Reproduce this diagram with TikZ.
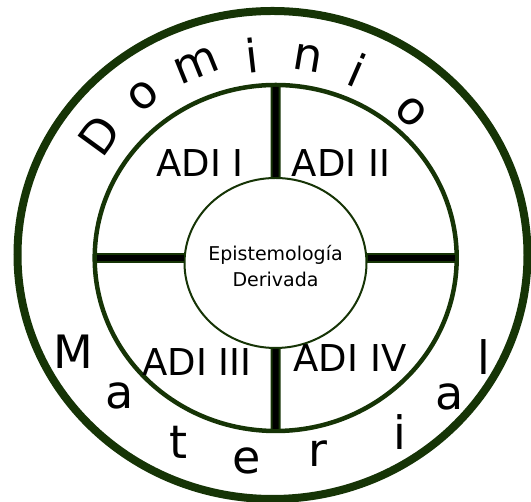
\documentclass[tikz,border=0pt]{standalone}
\usepackage{fontspec}
\setmainfont{DejaVu Sans}
\usepackage{xcolor}
\usepackage{tikz}
\usetikzlibrary{shapes.geometric, positioning, calc}
\definecolor{ringgreen}{RGB}{22,52,6}
\tikzset{
    ring/.style={ellipse, draw=ringgreen, inner sep=0pt, outer sep=0pt},
    divider/.style={line width=10pt, color=ringgreen},
    dividercore/.style={line width=6pt, color=black},
    adilabel/.style={font=\fontsize{37}{42}\selectfont, inner sep=0pt},
    bigletter/.style={font=\fontsize{46}{50}\selectfont, inner sep=0pt},
    corelabel/.style={font=\fontsize{19}{26}\selectfont, align=center, inner sep=0pt}
}

\begin{document}
\begin{tikzpicture}[x=1pt, y=1pt]
    \useasboundingbox (0,0) rectangle (531,502);

    \node (outer) [ring, line width=8pt, minimum width=510pt, minimum height=488pt] at (272.5,247) {};
    \node (mid) [ring, line width=4.5pt, minimum width=362pt, minimum height=346pt] at (275.7,244) {};
    \node (core) [ring, line width=2pt, minimum width=182pt, minimum height=170pt] at (275.5,239) {};

    % dividers between the rings
    \draw [divider] (mid.north) -- (core.north);
    \draw [divider] (core.south) -- (mid.south);
    \draw [divider] (mid.west) -- (mid.west -| core.west);
    \draw [divider] (mid.east) -- (mid.east -| core.east);
    \draw [dividercore] ([yshift=-2pt]mid.north) -- ([yshift=1pt]core.north);
    \draw [dividercore] ([yshift=-1pt]core.south) -- ([yshift=2pt]mid.south);
    \draw [dividercore] ([xshift=2pt]mid.west) -- ([xshift=-1pt]mid.west -| core.west);
    \draw [dividercore] ([xshift=-2pt]mid.east) -- ([xshift=1pt]mid.east -| core.east);

    \node (epi) [corelabel] at ([yshift=-3pt]core.center) {Epistemología\\Derivada};

    \node (adi1) [adilabel] at (200,339) {ADI I};
    \node (adi2) [adilabel] at (341,339) {ADI II};
    \node (adi3) [adilabel] at (197,140) {ADI III};
    \node (adi4) [adilabel] at (350,144) {ADI IV};

    % Dominio along the upper arc
    \node (dom1) [bigletter, rotate=54] at (99,367) {D};
    \node (dom2) [bigletter, rotate=39.6] at (143,406) {o};
    \node (dom3) [bigletter, rotate=22] at (196,437) {m};
    \node (dom4) [bigletter, rotate=6.5] at (252,447) {i};
    \node (dom5) [bigletter, rotate=-9.4] at (308,444) {n};
    \node (dom6) [bigletter, rotate=-23.6] at (357,432) {i};
    \node (dom7) [bigletter, rotate=-43] at (411,390) {o};

    % Material along the lower arc
    \node (mat1) [bigletter] at (73,150) {M};
    \node (mat2) [bigletter] at (120,106) {a};
    \node (mat3) [bigletter] at (179,60) {t};
    \node (mat4) [bigletter] at (247,41) {e};
    \node (mat5) [bigletter] at (318,48) {r};
    \node (mat6) [bigletter] at (400,70) {i};
    \node (mat7) [bigletter] at (450,105) {a};
    \node (mat8) [bigletter] at (484,145) {l};
\end{tikzpicture}
\end{document}
